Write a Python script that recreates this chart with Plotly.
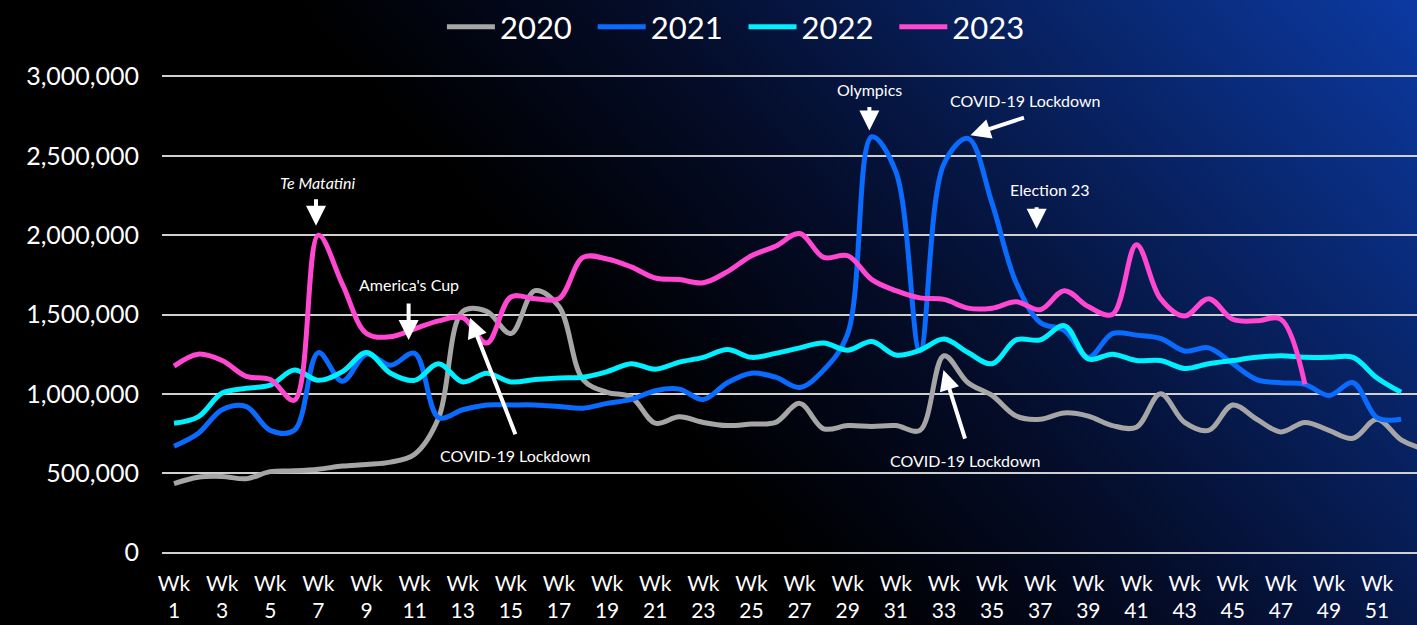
import base64
import plotly.graph_objects as go

weeks = list(range(1, 54))

y2020 = [435000, 475000, 480000, 465000, 510000, 515000, 525000, 545000, 555000, 570000,
         620000, 850000, 1520000, 1520000, 1380000, 1650000, 1550000, 1090000, 1010000, 980000,
         815000, 855000, 820000, 800000, 810000, 820000, 940000, 780000, 800000, 795000,
         800000, 770000, 1240000, 1070000, 990000, 860000, 840000, 880000, 860000, 800000,
         790000, 1000000, 820000, 770000, 930000, 840000, 760000, 820000, 770000, 720000,
         840000, 710000, 650000]

y2021 = [670000, 750000, 900000, 920000, 770000, 770000, 1260000, 1080000, 1250000, 1180000,
         1255000, 850000, 900000, 930000, 930000, 930000, 920000, 910000, 940000, 965000,
         1020000, 1030000, 965000, 1070000, 1130000, 1105000, 1040000, 1150000, 1380000, 2620000,
         2400000, 1270000, 2450000, 2610000, 2200000, 1700000, 1450000, 1400000, 1230000, 1380000,
         1370000, 1350000, 1270000, 1290000, 1190000, 1090000, 1070000, 1060000, 990000, 1070000,
         850000, 840000]

y2022 = [815000, 855000, 1005000, 1035000, 1055000, 1150000, 1085000, 1140000, 1260000, 1130000,
         1085000, 1190000, 1075000, 1130000, 1075000, 1090000, 1100000, 1105000, 1140000, 1190000,
         1155000, 1200000, 1230000, 1280000, 1230000, 1255000, 1290000, 1320000, 1275000, 1330000,
         1245000, 1275000, 1345000, 1260000, 1190000, 1340000, 1340000, 1430000, 1220000, 1250000,
         1210000, 1210000, 1160000, 1190000, 1210000, 1230000, 1240000, 1230000, 1230000, 1230000,
         1100000, 1010000]

y2023 = [1175000, 1250000, 1210000, 1110000, 1090000, 960000, 2000000, 1690000, 1380000, 1360000,
         1410000, 1460000, 1480000, 1320000, 1610000, 1600000, 1600000, 1860000, 1850000, 1800000,
         1730000, 1720000, 1700000, 1770000, 1870000, 1930000, 2010000, 1860000, 1870000, 1720000,
         1650000, 1605000, 1595000, 1540000, 1540000, 1580000, 1530000, 1650000, 1550000, 1500000,
         1940000, 1600000, 1490000, 1600000, 1470000, 1460000, 1470000, 1060000]

series_names = ["2020", "2021", "2022", "2023"]
series_values = [y2020, y2021, y2022, y2023]
series_colors = ["#a6a6a6", "#0a6cff", "#00f0ff", "#ff47d1"]

tick_weeks = list(range(1, 53, 2))
tick_text = [f"Wk<br>{w}" for w in tick_weeks]
y_ticks = [0, 500000, 1000000, 1500000, 2000000, 2500000, 3000000]

FONT = "Lato"
W, H = 1417, 625
ML, MR, MT, MB = 162, 0, 72, 68
PW, PH = W - ML - MR, H - MT - MB

fig = go.Figure()
for name, vals, col in zip(series_names, series_values, series_colors):
    fig.add_trace(go.Scatter(
        x=weeks[:len(vals)], y=vals, name=name + "  ", mode="lines",
        line=dict(color=col, width=5, shape="spline", smoothing=1.0),
    ))

# background gradient over the whole page
svg = """<svg xmlns='http://www.w3.org/2000/svg' width='1417' height='625' viewBox='0 0 1417 625' preserveAspectRatio='none'>
<defs><linearGradient id='g' gradientUnits='userSpaceOnUse' x1='800' y1='560' x2='1417' y2='0'>
<stop offset='0' stop-color='#000000'/>
<stop offset='0.3' stop-color='#040c28'/>
<stop offset='1' stop-color='#0c3aa2'/>
</linearGradient></defs>
<rect width='1417' height='625' fill='url(#g)'/></svg>"""
uri = "data:image/svg+xml;base64," + base64.b64encode(svg.encode()).decode()
fig.add_layout_image(dict(source=uri, xref="paper", yref="paper",
                          x=-ML / PW, y=1 + MT / PH, sizex=W / PW, sizey=H / PH,
                          xanchor="left", yanchor="top",
                          sizing="stretch", layer="below"))

ann_font = dict(family=FONT, size=16, color="white")
texts = [
    ("<i>Te Matatini</i>", 6.95, 2330000),
    ("America's Cup", 10.75, 1690000),
    ("COVID-19 Lockdown", 15.2, 610000),
    ("Olympics", 29.9, 2920000),
    ("COVID-19 Lockdown", 36.4, 2850000),
    ("Election 23", 37.4, 2290000),
    ("COVID-19 Lockdown", 33.9, 580000),
]
for t, x, y in texts:
    fig.add_annotation(x=x, y=y, text=t, showarrow=False, font=ann_font)

arrows = [
    (6.9, 2060000, 0, -28),
    (10.75, 1340000, 0, -38),
    (13.3, 1480000, 46, 118),
    (29.9, 2660000, 0, -25),
    (34.1, 2630000, 55, -18),
    (36.85, 2040000, 0, -23),
    (32.98, 1150000, 22, 70),
]
for x, y, ax, ay in arrows:
    fig.add_annotation(x=x, y=y, ax=ax, ay=ay, text="", showarrow=True,
                       arrowhead=2, arrowsize=1, arrowwidth=4, arrowcolor="white")

fig.update_layout(
    width=W, height=H,
    margin=dict(l=ML, r=MR, t=MT, b=MB, autoexpand=False),
    paper_bgcolor="#000000", plot_bgcolor="rgba(0,0,0,0)",
    font=dict(family=FONT, color="white"),
    showlegend=True,
    legend=dict(orientation="h", xref="container", x=0.525, xanchor="center",
                yref="container", y=1.0, yanchor="top",
                font=dict(family=FONT, size=31, color="white"),
                bgcolor="rgba(0,0,0,0)", itemwidth=48),
    xaxis=dict(range=[0.5, 52.66], tickmode="array", tickvals=tick_weeks, ticktext=tick_text,
               showgrid=False, zeroline=False, showline=False, ticklabelstandoff=12,
               tickfont=dict(family=FONT, size=21, color="white"), ticks="",
               tickangle=0),
    yaxis=dict(range=[-28000, 3028000], tickmode="array", tickvals=y_ticks,
               ticktext=[f"{v:,}" for v in y_ticks],
               showgrid=True, gridcolor="#d0d0d0", gridwidth=2, zeroline=False,
               showline=False, ticklabelstandoff=22,
               tickfont=dict(family=FONT, size=25, color="white"), ticks=""),
)

fig.write_html("out.html")
